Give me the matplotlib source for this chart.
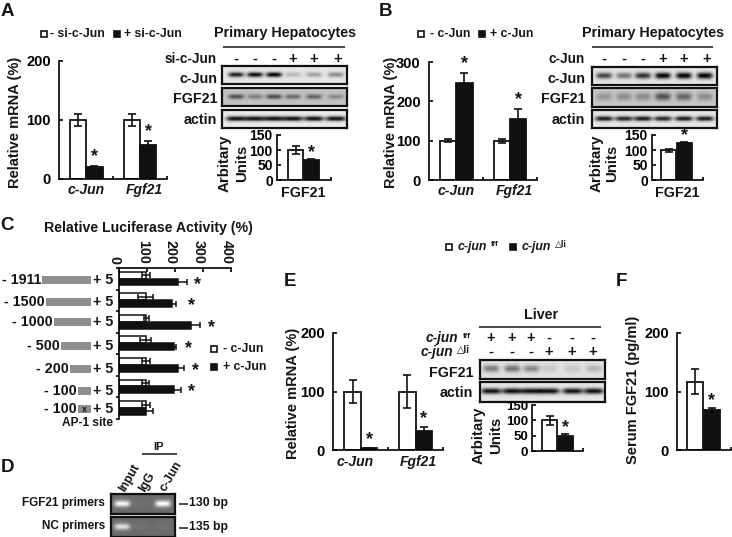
import numpy as np
import matplotlib
matplotlib.use('Agg')
import matplotlib.pyplot as plt

plt.rcParams['font.family'] = ['Liberation Sans', 'DejaVu Sans']
plt.rcParams['font.weight'] = 'bold'
plt.rcParams['axes.labelweight'] = 'bold'

W, H = 732, 537

# bar values
genes = ['c-Jun', 'Fgf21']
a_ctrl, a_ctrl_err = [100, 100], [10, 10]
a_treat, a_treat_err = [20, 58], [2, 7]
a_inset, a_inset_err = [100, 66], [14, 4]

b_ctrl, b_ctrl_err = [100, 98], [4, 5]
b_treat, b_treat_err = [247, 155], [25, 25]
b_inset, b_inset_err = [100, 122], [5, 5]

e_ctrl, e_ctrl_err = [100, 100], [20, 29]
e_treat, e_treat_err = [3, 33], [1, 7]
e_inset, e_inset_err = [100, 50], [14, 5]

f_vals, f_errs = [117, 68], [22, 3]

# luciferase panel
promoters = ['- 1911', '- 1500', '- 1000', '- 500', '- 200', '- 100', '- 100']
c_ticks = [0, 100, 200, 300, 400]
c_minus = [95, 95, 98, 95, 95, 95, 97]
c_minus_err = [14, 26, 10, 20, 14, 12, 14]
c_plus = [210, 189, 258, 195, 212, 198, 98]
c_plus_err = [33, 14, 30, 10, 20, 25, 24]
c_stars = [280, 260, 330, 247, 275, 258, None]

# blot band strengths, one per lane
a_cjun = [0.85, 0.95, 1.0, 0.2, 0.3, 0.4]
a_fgf21 = [0.6, 0.35, 0.6, 0.45, 0.5, 0.3]
a_actin = [0.95, 0.95, 0.95, 0.95, 0.95, 0.95]
b_cjun = [0.7, 0.5, 0.8, 1.0, 1.0, 1.0]
b_fgf21 = [0.25, 0.3, 0.3, 0.6, 0.5, 0.3]
b_actin = [0.9, 0.85, 0.9, 0.85, 0.9, 0.9]
e_fgf21 = [0.45, 0.5, 0.4, 0.12, 0.12, 0.2]
e_actin = [0.95, 0.95, 0.95, 0.95, 0.95, 0.95]
d_fgf21 = [0.95, 0.05, 1.0]
d_nc = [0.8, 0.05, 0.05]

minus_plus = ['-', '-', '-', '+', '+', '+']
plus_minus = ['+', '+', '+', '-', '-', '-']

fig = plt.figure(figsize=(W / 100, H / 100), dpi=100)


def px_axes(x0, y0, x1, y1, **kw):
    # box given in image pixels, y going down
    return fig.add_axes([x0 / W, 1 - y1 / H, (x1 - x0) / W, (y1 - y0) / H], **kw)


page = px_axes(0, 0, W, H, zorder=10)
page.set_xlim(0, W)
page.set_ylim(H, 0)
page.axis('off')
page.patch.set_alpha(0)


def txt(x, y, s, size=10, ha='center', rot=0, style='normal'):
    page.text(x, y, s, fontsize=size, ha=ha, va='center', rotation=rot,
              fontstyle=style, color='#151515', rotation_mode='anchor')


def square(x, y, filled):
    page.plot([x], [y], 's', ms=4.2, mfc='#111111' if filled else 'white',
              mec='#111111', mew=1.2)


def star(ax, x, y, size=13):
    ax.annotate('*', (x, y), xytext=(0, -2), textcoords='offset points',
                ha='center', va='bottom', fontsize=size, color='#151515')


def style_axes(ax, size=10.5, pad=6):
    for s in ['top', 'right']:
        ax.spines[s].set_visible(False)
    for s in ['left', 'bottom']:
        ax.spines[s].set_linewidth(1.2)
    ax.patch.set_alpha(0)
    ax.tick_params(axis='y', direction='in', length=3, width=1.2, pad=pad, labelsize=size)
    ax.tick_params(axis='x', direction='in', length=2.5, width=1.2, labelbottom=False)


def grouped_bars(box, ymax, yticks, ctrl, ctrl_err, treat, treat_err):
    ax = px_axes(*box)
    x = np.arange(len(ctrl))
    width = 0.3
    ekw = dict(ecolor='#111111', elinewidth=1.2, capsize=2.6, capthick=1.2)
    ax.bar(x - width / 2, ctrl, width, color='white', edgecolor='#111111', lw=1.3,
           yerr=ctrl_err, error_kw=ekw)
    ax.bar(x + width / 2, treat, width, color='#111111', edgecolor='#111111', lw=1.3,
           yerr=treat_err, error_kw=ekw)
    ax.set_xlim(-0.51, 1.5)
    ax.set_ylim(0, ymax)
    ax.set_yticks(yticks)
    ax.set_xticks([0.5, 1.5])
    style_axes(ax, 10.5)
    return ax, x, width


def two_bars(box, xlim, ymax, yticks, vals, errs, size=10, pad=3):
    ax = px_axes(*box)
    ekw = dict(ecolor='#111111', elinewidth=1.2, capsize=2.6, capthick=1.2)
    ax.bar([0, 1], vals, 0.96, color=['white', '#111111'], edgecolor='#111111', lw=1.3,
           yerr=errs, error_kw=ekw)
    ax.set_xlim(*xlim)
    ax.set_ylim(0, ymax)
    ax.set_yticks(yticks)
    ax.set_xticks([xlim[1]])
    style_axes(ax, size, pad)
    return ax


def blot(box, lanes, bands, bg=0.86, thick=0.14, half=8.0, dark=False):
    ax = px_axes(*box)
    x0, y0, x1, y1 = box
    xx, yy = np.meshgrid(np.linspace(x0, x1, 250), np.linspace(0, 1, 40))
    img = np.full_like(xx, bg)
    for lane, b in zip(lanes, bands):
        blob = b * np.exp(-((xx - lane) / half) ** 4) * np.exp(-((yy - 0.48) / thick) ** 2)
        if dark:
            img = img + blob * (1 - bg)
        else:
            img = img - blob * bg
    ax.imshow(img, cmap='gray', vmin=0, vmax=1, aspect='auto', interpolation='bilinear')
    ax.set_xticks([])
    ax.set_yticks([])
    for s in ax.spines.values():
        s.set_linewidth(1.6)
        s.set_color('#111111')


def signs(xs, y, marks):
    for x, m in zip(xs, marks):
        txt(x, y, m, 10.5)


def rule(x0, x1, y):
    page.plot([x0, x1], [y, y], color='#151515', lw=1.1, solid_capstyle='butt')


# panel letters
for x, y, s in [(7, 11, 'A'), (386, 11, 'B'), (7, 226, 'C'), (7, 468, 'D'),
                (290, 281, 'E'), (621, 281, 'F')]:
    txt(x, y, s, 13.5)

# ---- A ----
square(44, 34, False)
txt(50, 34, '- si-c-Jun', 8.8, 'left')
square(117, 34, True)
txt(124, 34, '+ si-c-Jun', 8.8, 'left')
ax, x, w = grouped_bars((59, 61, 167, 179), 200, [0, 100, 200], a_ctrl, a_ctrl_err, a_treat, a_treat_err)
for i in range(2):
    star(ax, x[i] + w / 2, a_treat[i] + a_treat_err[i] + 6)
txt(15, 122, 'Relative mRNA (%)', 10.5, rot=90)
txt(86, 190, genes[0], 10, style='italic')
txt(144, 190, genes[1], 10, style='italic')

lanes_a = [236, 255, 274, 293, 314, 336]
txt(285, 33, 'Primary Hepatocytes', 10.3)
rule(223, 345, 47)
txt(217, 59, 'si-c-Jun', 9.8, 'right')
signs([236, 255, 274, 293, 314, 338], 59, minus_plus)
blot((222, 66, 347, 84), lanes_a, a_cjun, 0.9)
blot((222, 88, 347, 106), lanes_a, a_fgf21, 0.76)
blot((222, 110, 347, 128), lanes_a, a_actin, 0.92, half=10)
txt(217, 79, 'c-Jun', 10.3, 'right')
txt(217, 99, 'FGF21', 10.3, 'right')
txt(217, 120, 'actin', 10.3, 'right')
ax = two_bars((277, 135, 331, 180), (-1.21, 2.27), 150, [0, 50, 100, 150], a_inset, a_inset_err)
star(ax, 1, a_inset[1] + a_inset_err[1] + 3)
txt(225, 163, 'Arbitary', 10.8, rot=90)
txt(242, 163, 'Units', 10.8, rot=90)
txt(303, 193, 'FGF21', 10.3)

# ---- B ----
square(421, 34, False)
txt(430, 34, '- c-Jun', 8.8, 'left')
square(482, 34, True)
txt(490, 34, '+ c-Jun', 8.8, 'left')
ax, x, w = grouped_bars((429, 62, 537, 180), 300, [0, 100, 200, 300], b_ctrl, b_ctrl_err, b_treat, b_treat_err)
for i in range(2):
    star(ax, x[i] + w / 2, b_treat[i] + b_treat_err[i] + 9)
txt(391, 122, 'Relative mRNA (%)', 10.5, rot=90)
txt(456, 191, genes[0], 10, style='italic')
txt(514, 191, genes[1], 10, style='italic')

lanes_b = [604, 624, 643, 663, 684, 705]
txt(653, 33, 'Primary Hepatocytes', 10.3)
rule(592, 713, 47)
txt(585, 59, 'c-Jun', 9.8, 'right')
signs([604, 624, 643, 663, 684, 707], 59, minus_plus)
blot((592, 67, 717, 85), lanes_b, b_cjun, 0.9, 0.18)
blot((592, 88, 717, 107), lanes_b, b_fgf21, 0.78, 0.2)
blot((592, 110, 717, 128), lanes_b, b_actin, 0.9, half=9)
txt(585, 79, 'c-Jun', 10.3, 'right')
txt(585, 99, 'FGF21', 10.3, 'right')
txt(585, 120, 'actin', 10.3, 'right')
ax = two_bars((652, 135, 703, 180), (-1.08, 2.21), 150, [0, 50, 100, 150], b_inset, b_inset_err)
star(ax, 1, b_inset[1] + b_inset_err[1] + 2)
txt(597, 163, 'Arbitary', 10.8, rot=90)
txt(612, 163, 'Units', 10.8, rot=90)
txt(677, 193, 'FGF21', 10.3)

# ---- C ----
txt(148, 228, 'Relative Luciferase Activity (%)', 10.2)
ax = px_axes(119, 268, 231, 419)
rows = np.arange(len(promoters)) + 0.5
ekw = dict(ecolor='#111111', elinewidth=1.1, capsize=2, capthick=1.1)
ax.barh(rows - 0.17, c_minus, 0.32, color='white', edgecolor='#111111', lw=1.1,
        xerr=c_minus_err, error_kw=ekw)
ax.barh(rows + 0.15, c_plus, 0.32, color='#111111', edgecolor='#111111', lw=1.1,
        xerr=c_plus_err, error_kw=ekw)
ax.set_xlim(0, 400)
ax.set_ylim(len(promoters), 0)
ax.xaxis.tick_top()
ax.set_xticks(c_ticks)
ax.set_xticklabels([])
# the tick labels sit left of their ticks here, so they are placed by hand
for t in c_ticks:
    ax.annotate(str(t), (t, 1), xycoords=ax.get_xaxis_transform(), xytext=(-3, 3),
                textcoords='offset points', rotation=-90, ha='center', va='bottom',
                fontsize=10.3, color='#151515', annotation_clip=False)
ax.set_yticks(np.arange(len(promoters) + 1))
ax.set_yticklabels([])
ax.tick_params(axis='x', direction='in', length=3, width=1.2)
ax.tick_params(axis='y', direction='out', length=2.5, width=1.2)
for s in ['bottom', 'right']:
    ax.spines[s].set_visible(False)
for s in ['top', 'left']:
    ax.spines[s].set_linewidth(1.2)
for r, v in zip(rows, c_stars):
    if v is not None:
        ax.text(v, r + 0.25, '*', ha='center', va='center', fontsize=13, color='#151515')

bar_left = [42, 46, 54, 61, 70, 78, 78]
bar_y = [280, 302, 322, 346, 369, 391, 409]
for name, left, y in zip(promoters, bar_left, bar_y):
    page.fill_between([left, 91], y - 4, y + 4, color='#8f8f8f', lw=0)
    txt(left - 1, y, name, 10.3, 'right')
    txt(93, y, '+ 5', 10.3, 'left')
txt(84, 409, 'x', 6.5)
txt(87, 423, 'AP-1 site', 8.6)
square(214, 349, False)
txt(223, 349, '- c-Jun', 8.8, 'left')
square(214, 367, True)
txt(223, 367, '+ c-Jun', 8.8, 'left')

# ---- D ----
txt(122, 491, 'Input', 8.8, 'left', rot=60)
txt(142, 491, 'IgG', 8.8, 'left', rot=60)
txt(163, 491, 'c-Jun', 8.8, 'left', rot=60)
txt(159, 447, 'IP', 8)
rule(142, 177, 454)
lanes_d = [122, 140, 163]
blot((111, 494, 175, 514), lanes_d, d_fgf21, 0.42, 0.17, dark=True)
blot((111, 517, 175, 537), lanes_d, d_nc, 0.42, 0.17, dark=True)
txt(105, 503, 'FGF21 primers', 8.5, 'right')
txt(105, 526, 'NC primers', 8.5, 'right')
rule(179, 188, 504)
rule(179, 188, 528)
txt(189, 503, '130 bp', 8.8, 'left')
txt(189, 527, '135 bp', 8.8, 'left')

# ---- E ----
square(449, 247, False)
txt(458, 247, 'c-jun', 8.8, 'left', style='italic')
txt(491, 245, 'f/f', 5.8, 'left')
square(513, 247, True)
txt(522, 247, 'c-jun', 8.8, 'left', style='italic')
txt(555, 245, '△li', 6.5, 'left')
ax, x, w = grouped_bars((333, 333, 443, 450), 200, [0, 100, 200], e_ctrl, e_ctrl_err, e_treat, e_treat_err)
for i in range(2):
    star(ax, x[i] + w / 2, e_treat[i] + e_treat_err[i] + 4)
txt(293, 393, 'Relative mRNA (%)', 10.5, rot=90)
txt(355, 462, genes[0], 10, style='italic')
txt(418, 462, genes[1], 10, style='italic')

lanes_e = [491, 512, 531, 549, 572, 593]
txt(541, 315, 'Liver', 10.3)
rule(479, 601, 327)
txt(426, 338, 'c-jun', 9.8, 'left', style='italic')
txt(463, 336, 'f/f', 6, 'left')
txt(421, 352, 'c-jun', 9.8, 'left', style='italic')
txt(457, 350, '△li', 7, 'left')
signs(lanes_e, 338, plus_minus)
signs(lanes_e, 352, minus_plus)
blot((480, 360, 605, 379), lanes_e, e_fgf21, 0.88, 0.18)
blot((480, 382, 605, 402), lanes_e, e_actin, 0.9, half=10)
txt(473, 373, 'FGF21', 10.3, 'right')
txt(473, 393, 'actin', 10.3, 'right')
ax = two_bars((532, 405, 583, 451), (-1.145, 2.145), 150, [0, 50, 100, 150], e_inset, e_inset_err, 9.5)
star(ax, 1, e_inset[1] + e_inset_err[1] + 4)
txt(479, 435, 'Arbitary', 10.8, rot=90)
txt(496, 435, 'Units', 10.8, rot=90)

# ---- F ----
ax = two_bars((677, 333, 731, 450), (-1.1, 2.17), 200, [0, 100, 200], f_vals, f_errs, 10.5, 6)
star(ax, 1, f_vals[1] + f_errs[1] + 3)
txt(633, 390, 'Serum FGF21 (pg/ml)', 10.5, rot=90)

fig.savefig('out.png', dpi=100, facecolor='white')
